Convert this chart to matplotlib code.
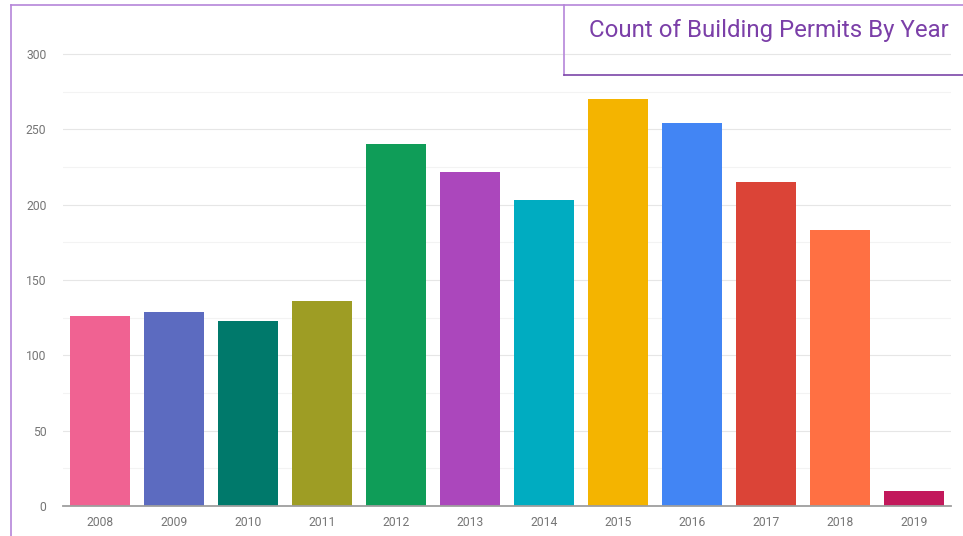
import matplotlib.pyplot as plt
from matplotlib.lines import Line2D
from matplotlib.ticker import MultipleLocator

plt.rcParams['font.family'] = ['Roboto', 'DejaVu Sans']

# data
years = ['2008', '2009', '2010', '2011', '2012', '2013',
         '2014', '2015', '2016', '2017', '2018', '2019']
permits = [126, 129, 123, 136, 240, 222, 203, 270, 254, 215, 183, 10]
colors = ['#F06292', '#5C6BC0', '#00796B', '#9E9D24', '#0F9D58', '#AB47BC',
          '#00ACC1', '#F4B400', '#4285F4', '#DB4437', '#FF7043', '#C2185B']

W, H = 963, 536
fig = plt.figure(figsize=(W / 100, H / 100), dpi=100)

# axes placed in pixel coordinates
x0, x1 = 63, 951
y_base, y_top = 506, 54
ymax = 302
px_per_unit = (y_base - y_top) / 300
top_px = y_base - ymax * px_per_unit
ax = fig.add_axes([x0 / W, (H - y_base) / H, (x1 - x0) / W, (y_base - top_px) / H])

xs = range(len(years))
ax.bar(xs, permits, width=0.8, color=colors, zorder=3)

ax.set_xlim(-0.5, len(years) - 0.5)
ax.set_ylim(0, ymax)
ax.yaxis.set_major_locator(MultipleLocator(50))
ax.yaxis.set_minor_locator(MultipleLocator(25))
ax.set_xticks(list(xs))
ax.set_xticklabels(years)

ax.grid(axis='y', which='major', color='#e6e6e6', linewidth=0.8, zorder=0)
ax.grid(axis='y', which='minor', color='#f3f3f3', linewidth=0.8, zorder=0)
ax.tick_params(axis='both', which='both', length=0, colors='#757575', labelsize=8.7)
ax.tick_params(axis='y', pad=12)
ax.tick_params(axis='x', pad=7)

for side in ['top', 'right', 'left']:
    ax.spines[side].set_visible(False)
ax.spines['bottom'].set_color('#9e9e9e')
ax.spines['bottom'].set_linewidth(1.3)
ax.spines['bottom'].set_zorder(4)


def px_line(xa, ya, xb, yb, color, lw=1.2):
    fig.add_artist(Line2D([xa / W, xb / W], [1 - ya / H, 1 - yb / H],
                          color=color, linewidth=lw, transform=fig.transFigure))


# frame lines of the report page
px_line(11, 5, W, 5, '#b585d9')
px_line(11, 5, 11, H, '#b585d9')

# title box
px_line(564, 5, 564, 75, '#b585d9')
px_line(564, 75, W, 75, '#7b45a8')
fig.text(768.5 / W, 1 - 30 / H, 'Count of Building Permits By Year',
         ha='center', va='center', fontsize=17.3, color='#7b3fa8')

fig.savefig('out.png', dpi=100)
